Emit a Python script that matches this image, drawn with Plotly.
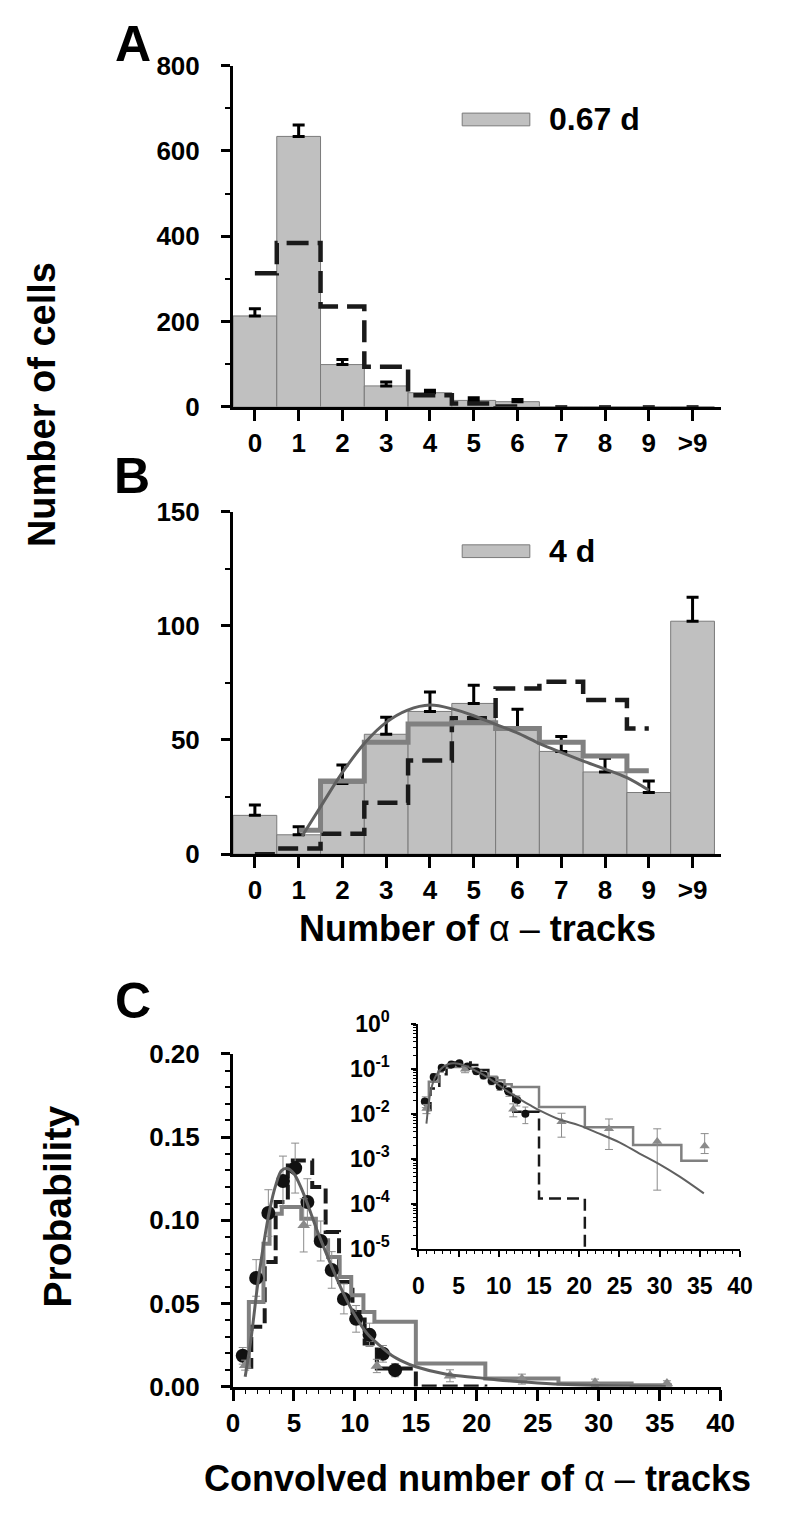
import plotly.graph_objects as go

# figure is 16 px smaller than the window so the page (with the browser's 8 px body margin) fits exactly
WF, HF = 784, 1523
FONT = "Liberation Sans, Arial, Helvetica, sans-serif"

# ---------------- data ----------------
categories = ["0", "1", "2", "3", "4", "5", "6", "7", "8", "9", ">9"]

a_cells = [213, 634, 99, 49, 33, 15, 12, 0, 0, 0, 0]
a_err = [17, 27, 12, 9, 6, 6, 5, 0, 0, 0, 0]
a_model = [313, 384, 235, 94, 27, 8, 1]

b_cells = [17, 8.5, 31, 52.5, 62.5, 66, 55.5, 45, 36, 27, 102]
b_err = [4.5, 3.5, 8, 7.5, 8.5, 8, 8, 6.5, 6, 5, 10.5]
b_model_dash = [0, 2.5, 9, 22.5, 41, 59.5, 72.5, 75.5, 67.5, 55]
b_model_step = [10.5, 32, 49, 57, 57.5, 55, 49, 43, 36.5]
b_fit_x = [1.08, 1.56, 2.0, 2.52, 3.0, 3.49, 4.0, 4.53, 5.0, 5.49, 5.97, 6.53, 7.01, 7.49, 7.97, 8.5, 9.0]
b_fit_y = [8.0, 22.6, 35.8, 48.9, 57.7, 63.1, 65.3, 63.5, 60.6, 56.9, 53.3, 48.2, 44.5, 40.9, 37.5, 33.5, 28.0]

c_circ_x = [0.8, 1.9, 2.9, 4.1, 5.1, 6.1, 7.2, 8.1, 9.1, 10.1, 11.2, 12.3, 13.3]
c_circ_y = [0.0186, 0.0654, 0.1044, 0.1236, 0.1314, 0.111, 0.0876, 0.0702, 0.0528, 0.0408, 0.0312, 0.0198, 0.0100]
c_circ_err = [0.005, 0.011, 0.014, 0.015, 0.015, 0.014, 0.012, 0.011, 0.009, 0.008, 0.007, 0.005, 0.004]

c_tri_x = [1.0, 5.8, 11.8, 17.8, 23.7, 29.7, 35.6]
c_tri_y = [0.013, 0.097, 0.0125, 0.0066, 0.0046, 0.0024, 0.0019]
c_tri_err_plus = [0.003, 0.016, 0.004, 0.0036, 0.003, 0.0022, 0.0017]
c_tri_err_minus = [0.003, 0.016, 0.004, 0.0036, 0.003, 0.0022, 0.0006]

c_dash_edges = [1.0, 1.5, 2.6, 3.5, 4.5, 6.5, 7.6, 8.7, 9.8, 10.8, 11.8, 15.0, 20.7]
c_dash_levels = [0.012, 0.036, 0.075, 0.111, 0.136, 0.120, 0.093, 0.063, 0.045, 0.026, 0.011, 0.00013]

c_step_edges = [1.05, 1.3, 2.5, 3.0, 4.0, 5.6, 6.8, 7.8, 8.75, 9.7, 10.7, 11.6, 15.0, 20.7, 26.7, 32.7, 36.0]
c_step_levels = [0.012, 0.051, 0.086, 0.104, 0.108, 0.101, 0.088, 0.078, 0.066, 0.055, 0.045, 0.039,
                 0.0140, 0.0050, 0.0020, 0.0009]

c_fit_x = [1.0, 1.5, 2.0, 2.5, 3.0, 3.5, 4.0, 4.5, 5.0, 5.5, 6.0, 7.0, 8.0, 9.0, 10.0, 11.0, 12.0, 13.0,
           14.0, 15.0, 17.5, 20.0, 22.5, 25.0, 27.5, 30.0, 32.5, 35.5]
c_fit_y = [0.006, 0.030, 0.060, 0.085, 0.106, 0.121, 0.130, 0.131, 0.128, 0.121, 0.112, 0.092, 0.074, 0.057,
           0.043, 0.032, 0.025, 0.019, 0.015, 0.012, 0.0075, 0.0055, 0.0036, 0.0023, 0.0013, 0.00075,
           0.00040, 0.00017]

inset_yticks = [1e-5, 1e-4, 1e-3, 1e-2, 1e-1, 1e0]
inset_yticktext = ["10<sup>-5</sup>", "10<sup>-4</sup>", "10<sup>-3</sup>", "10<sup>-2</sup>",
                   "10<sup>-1</sup>", "10<sup>0</sup>"]

BAR_FILL = "#c0c0c0"
BAR_EDGE = "#7a7a7a"
DASH_COL = "#1a1a1a"
STEP_COL = "#808080"
FIT_COL = "#606060"
ERR_COL = "#8c8c8c"

idx = list(range(len(categories)))


def fx(p):
    return p / WF


def fy(p):
    return 1 - p / HF


def dom_x(p0, p1):
    return [fx(p0), fx(p1)]


def dom_y(top, bottom):
    return [fy(bottom), fy(top)]


fig = go.Figure()

# ---- Panel A ----
fig.add_trace(go.Bar(
    x=idx, y=a_cells, width=1,
    marker=dict(color=BAR_FILL, line=dict(color=BAR_EDGE, width=1)),
    error_y=dict(type="data", array=a_err, arrayminus=[0] * len(a_err), symmetric=False,
                 color="black", thickness=3, width=6),
    xaxis="x", yaxis="y"))
fig.add_trace(go.Scatter(
    x=idx[:len(a_model)], y=a_model, mode="lines",
    line=dict(shape="hvh", color=DASH_COL, width=4.5, dash="22px,9px"),
    xaxis="x", yaxis="y"))

# ---- Panel B ----
fig.add_trace(go.Bar(
    x=idx, y=b_cells, width=1,
    marker=dict(color=BAR_FILL, line=dict(color=BAR_EDGE, width=1)),
    error_y=dict(type="data", array=b_err, arrayminus=[0] * len(b_err), symmetric=False,
                 color="black", thickness=3, width=6),
    xaxis="x2", yaxis="y2"))
fig.add_trace(go.Scatter(
    x=idx[:len(b_model_dash)], y=b_model_dash, mode="lines",
    line=dict(shape="hvh", color=DASH_COL, width=4.5, dash="20px,9px"),
    xaxis="x2", yaxis="y2"))
fig.add_trace(go.Scatter(
    x=idx[1:1 + len(b_model_step)], y=b_model_step, mode="lines",
    line=dict(shape="hvh", color=STEP_COL, width=5),
    xaxis="x2", yaxis="y2"))
fig.add_trace(go.Scatter(
    x=b_fit_x, y=b_fit_y, mode="lines",
    line=dict(shape="spline", color=FIT_COL, width=3),
    xaxis="x2", yaxis="y2"))

# ---- Panel C (main, linear) ----
fig.add_trace(go.Scatter(
    x=c_dash_edges, y=c_dash_levels + [0], mode="lines",
    line=dict(shape="hv", color=DASH_COL, width=4, dash="15px,6px"),
    xaxis="x3", yaxis="y3"))
fig.add_trace(go.Scatter(
    x=c_step_edges, y=c_step_levels + [c_step_levels[-1]], mode="lines",
    line=dict(shape="hv", color=STEP_COL, width=4),
    xaxis="x3", yaxis="y3"))
fig.add_trace(go.Scatter(
    x=c_circ_x, y=c_circ_y, mode="markers",
    marker=dict(symbol="circle", size=14, color="#111111"),
    error_y=dict(type="data", array=c_circ_err, color=ERR_COL, thickness=1, width=4),
    cliponaxis=False, xaxis="x3", yaxis="y3"))
fig.add_trace(go.Scatter(
    x=c_tri_x, y=c_tri_y, mode="markers",
    marker=dict(symbol="triangle-up", size=11, color="#8a8a8a"),
    error_y=dict(type="data", array=c_tri_err_plus, arrayminus=c_tri_err_minus, symmetric=False,
                 color=ERR_COL, thickness=1, width=4),
    cliponaxis=False, xaxis="x3", yaxis="y3"))
fig.add_trace(go.Scatter(
    x=c_fit_x, y=c_fit_y, mode="lines",
    line=dict(shape="spline", color=FIT_COL, width=3),
    xaxis="x3", yaxis="y3"))

# ---- Panel C inset (log) ----
fig.add_trace(go.Scatter(
    x=c_dash_edges, y=c_dash_levels + [1e-9], mode="lines",
    line=dict(shape="hv", color=DASH_COL, width=2.5, dash="12px,6px"),
    xaxis="x4", yaxis="y4"))
fig.add_trace(go.Scatter(
    x=c_step_edges, y=c_step_levels + [c_step_levels[-1]], mode="lines",
    line=dict(shape="hv", color=STEP_COL, width=2.5),
    xaxis="x4", yaxis="y4"))
fig.add_trace(go.Scatter(
    x=c_circ_x, y=c_circ_y, mode="markers",
    marker=dict(symbol="circle", size=8, color="#111111"),
    error_y=dict(type="data", array=c_circ_err, color=ERR_COL, thickness=1, width=3),
    xaxis="x4", yaxis="y4"))
fig.add_trace(go.Scatter(
    x=c_tri_x, y=c_tri_y, mode="markers",
    marker=dict(symbol="triangle-up", size=9, color="#8a8a8a"),
    error_y=dict(type="data", array=c_tri_err_plus, arrayminus=c_tri_err_minus, symmetric=False,
                 color=ERR_COL, thickness=1, width=4),
    xaxis="x4", yaxis="y4"))
fig.add_trace(go.Scatter(
    x=c_fit_x, y=c_fit_y, mode="lines",
    line=dict(shape="spline", color=FIT_COL, width=2),
    xaxis="x4", yaxis="y4"))

# ---------------- axes ----------------
tickfont = dict(family=FONT, size=26, color="black", weight="bold")
tickfont_in = dict(family=FONT, size=23, color="black", weight="bold")

common = dict(showgrid=False, zeroline=False, showline=True, linecolor="black", linewidth=3,
              ticks="outside", tickcolor="black", tickwidth=3, tickfont=tickfont)

cat_x = dict(common, range=[-0.5, 10.64], tickmode="array", tickvals=idx, ticktext=categories,
             ticklen=11, ticklabelstandoff=0)

fig.update_layout(
    width=WF, height=HF, margin=dict(l=0, r=0, t=0, b=0),
    paper_bgcolor="white", plot_bgcolor="white", showlegend=False,
    xaxis=dict(cat_x, domain=dom_x(224, 725), anchor="y"),
    yaxis=dict(common, domain=dom_y(41.5, 390), anchor="x", range=[0, 800],
               tickmode="array", tickvals=[0, 200, 400, 600, 800], ticklen=9, ticklabelstandoff=16,
               minor=dict(tickmode="array", tickvals=[100, 300, 500, 700], ticks="outside",
                          ticklen=5, tickwidth=2, tickcolor="black")),
    xaxis2=dict(cat_x, domain=dom_x(224, 725), anchor="y2"),
    yaxis2=dict(common, domain=dom_y(497, 847), anchor="x2", range=[0, 150],
                tickmode="array", tickvals=[0, 50, 100, 150], ticklen=9, ticklabelstandoff=16,
                minor=dict(tickmode="array", tickvals=[25, 75, 125], ticks="outside",
                           ticklen=5, tickwidth=2, tickcolor="black")),
    xaxis3=dict(common, domain=dom_x(224, 725), anchor="y3", range=[0, 40],
                tickmode="linear", tick0=0, dtick=5, ticklen=11, ticklabelstandoff=0,
                minor=dict(dtick=1, ticks="outside", ticklen=4, tickwidth=1, tickcolor="black")),
    yaxis3=dict(common, domain=dom_y(1051, 1391), anchor="x3", range=[0, 0.2],
                tickmode="linear", tick0=0, dtick=0.05, tickformat=".2f", ticklen=9,
                ticklabelstandoff=16,
                minor=dict(dtick=0.01, ticks="outside", ticklen=5, tickwidth=2, tickcolor="black")),
    xaxis4=dict(showgrid=False, zeroline=False, showline=True, linecolor="black", linewidth=2,
                ticks="outside", tickcolor="black", tickwidth=2, ticklen=6, tickfont=tickfont_in,
                domain=dom_x(414.5, 745), anchor="y4", range=[0, 40], tickmode="linear", tick0=0,
                dtick=5, ticklabelstandoff=10,
                minor=dict(dtick=1, ticks="outside", ticklen=3, tickwidth=1, tickcolor="black")),
    yaxis4=dict(showgrid=False, zeroline=False, showline=True, linecolor="black", linewidth=2,
                ticks="outside", tickcolor="black", tickwidth=2, ticklen=5, tickfont=tickfont_in,
                domain=dom_y(1020, 1250), anchor="x4", type="log", range=[-5, 0],
                tickmode="array", tickvals=inset_yticks, ticktext=inset_yticktext,
                ticklabelstandoff=17,
                minor=dict(tickmode="array",
                           tickvals=[m * 10 ** e for e in range(-5, 0) for m in range(2, 10)],
                           ticks="outside", ticklen=3, tickwidth=1, tickcolor="black")),
)

# ---------------- legend keys ----------------
for top, bot, text in [(90, 103, "0.67 d"), (531, 544, "4 d")]:
    fig.add_shape(type="rect", xref="paper", yref="paper",
                  x0=fx(459.5), x1=fx(529), y0=fy(bot), y1=fy(top),
                  fillcolor=BAR_FILL, line=dict(color=BAR_EDGE, width=1))
    fig.add_annotation(xref="paper", yref="paper", x=fx(547), y=fy((top + bot) / 2),
                       xanchor="left", yanchor="middle", showarrow=False, text=text,
                       font=dict(family=FONT, size=32, color="black", weight="bold"))


# ---------------- text ----------------
def label(x, y, text, size, angle=0, weight="bold"):
    fig.add_annotation(xref="paper", yref="paper", x=fx(x), y=fy(y), text=text,
                       showarrow=False, xanchor="center", yanchor="middle", textangle=angle,
                       font=dict(family=FONT, size=size, color="black", weight=weight))


label(121, 19, "A", 50)
label(120, 461, "B", 50)
label(121, 997, "C", 50)
label(28, 388, "Number of cells", 38, angle=-90)
label(44, 1207, "Probability", 39, angle=-90)
label(475, 923, "<b>Number of </b>α – <b>tracks</b>", 36, weight="normal")
label(475, 1485, "<b>Convolved number of </b>α – <b>tracks</b>", 36, weight="normal")

fig.write_html("out.html")
